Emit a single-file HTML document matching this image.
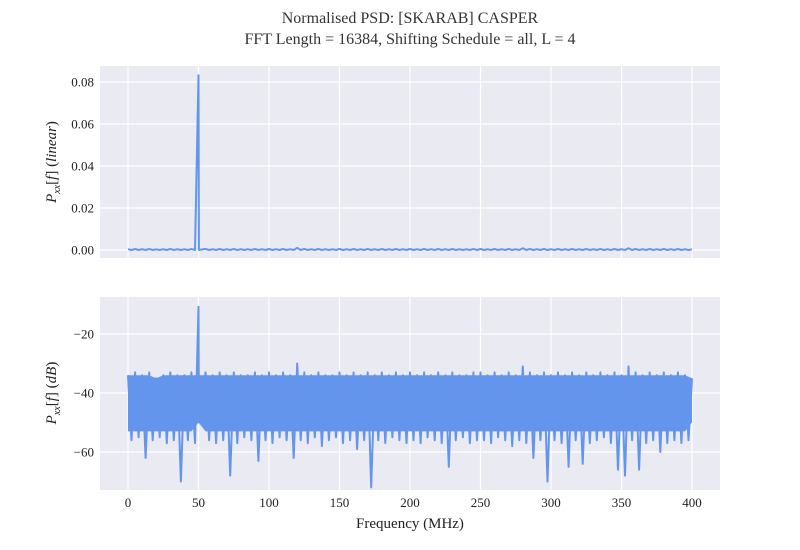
<!DOCTYPE html>
<html><head><meta charset="utf-8"><style>
body{margin:0;background:#fff}
svg{display:block;font-family:"Liberation Serif",serif}
</style></head><body>
<svg id="chart" width="800" height="550" viewBox="0 0 800 550">
<text x="410" y="23" text-anchor="middle" font-size="16" fill="#333">Normalised PSD: [SKARAB] CASPER</text>
<text x="410" y="44" text-anchor="middle" font-size="16" fill="#333">FFT Length = 16384, Shifting Schedule = all, L = 4</text>
<g id="topAxes"></g>
<g id="botAxes"></g>
<text x="410" y="528" text-anchor="middle" font-size="15" fill="#222">Frequency (MHz)</text>
<text transform="translate(56,162) rotate(-90)" text-anchor="middle" font-size="15" fill="#222"><tspan font-style="italic">P</tspan><tspan font-style="italic" font-size="10" dy="4">xx</tspan><tspan dy="-4">[</tspan><tspan font-style="italic">f</tspan><tspan>] (</tspan><tspan font-style="italic">linear</tspan><tspan>)</tspan></text>
<text transform="translate(56,393) rotate(-90)" text-anchor="middle" font-size="15" fill="#222"><tspan font-style="italic">P</tspan><tspan font-style="italic" font-size="10" dy="4">xx</tspan><tspan dy="-4">[</tspan><tspan font-style="italic">f</tspan><tspan>] (</tspan><tspan font-style="italic">dB</tspan><tspan>)</tspan></text>
</svg>
<script>
const freqStep = 5;
const hiDb = [-34,-33,-34,-33,-35,-34,-33,-34,-34,-33,
-10.8,-33,-34,-33,-34,-33,-34,-34,-33,-34,
-33,-34,-33,-34,-30,-33,-34,-33,-34,-34,
-33,-34,-33,-34,-33,-34,-33,-34,-33,-34,
-33,-34,-33,-34,-33,-34,-33,-34,-34,-33,
-33,-34,-33,-34,-33,-34,-31,-33,-34,-33,
-34,-33,-34,-33,-34,-33,-34,-33,-34,-33,
-34,-31,-33,-34,-33,-34,-33,-34,-33,-34,
-35];
const loDb = [-56,-55,-62,-56,-55,-57,-56,-70,-56,-57,
-50,-56,-57,-56,-68,-57,-55,-56,-63,-56,
-57,-55,-56,-62,-56,-57,-55,-58,-56,-55,
-57,-56,-59,-56,-72,-56,-57,-55,-56,-57,
-56,-57,-55,-56,-57,-65,-56,-55,-57,-56,
-56,-57,-55,-56,-58,-56,-57,-62,-56,-70,
-56,-57,-65,-56,-64,-57,-56,-55,-57,-66,
-68,-56,-66,-57,-56,-60,-57,-56,-57,-56,
-50];
const xTicks = [0,50,100,150,200,250,300,350,400];
const topYTicks = [0,0.02,0.04,0.06,0.08];
const topYLabels = ["0.00","0.02","0.04","0.06","0.08"];
const botYTicks = [-20,-40,-60];
const botYLabels = ["\u221220","\u221240","\u221260"];

const NS="http://www.w3.org/2000/svg";
const X0=100,X1=720;
const xs=f=>128+f*(692-128)/400;
const yTop=v=>250-v*(168/0.08);
const yBot=v=>334+(v+20)*(-59/20);
function mk(p,tag,attrs){const e=document.createElementNS(NS,tag);for(const k in attrs)e.setAttribute(k,attrs[k]);p.appendChild(e);return e;}
function off(i){return hiDb[i]>-20?0.3:2.5;}

function axes(g,y0,y1,yt,yl,yf,showX){
  const bg=mk(g,'rect',{x:X0,y:y0,width:X1-X0,height:y1-y0,fill:'#eaeaf2'});
  
  
  xTicks.forEach(t=>{
    const l=mk(g,'line',{x1:xs(t),x2:xs(t),y1:y0,y2:y1,stroke:'#fff','stroke-width':1.2});
    
    
    if(showX){
      const tx=mk(g,'text',{x:xs(t),y:y1+17,'text-anchor':'middle','font-size':13,fill:'#222'});
      tx.textContent=String(t);
      
      
    }
  });
  yt.forEach((t,i)=>{
    const l=mk(g,'line',{x1:X0,x2:X1,y1:yf(t),y2:yf(t),stroke:'#fff','stroke-width':1.2});
    
    
    const tx=mk(g,'text',{x:X0-6,y:yf(t)+4.5,'text-anchor':'end','font-size':13,fill:'#222'});
    tx.textContent=yl[i];
    
    
  });
}
const topG=document.getElementById('topAxes'),botG=document.getElementById('botAxes');
axes(topG,66,258,topYTicks,topYLabels,yTop,false);
axes(botG,297,490,botYTicks,botYLabels,yBot,true);

let d='';
hiDb.forEach((v,i)=>{const f=i*freqStep;const lin=Math.pow(10,v/10);d+=(i?'L':'M')+xs(f).toFixed(1)+','+yTop(lin).toFixed(1);
  if(i<hiDb.length-1){d+='L'+xs(f+off(i)).toFixed(1)+','+yTop(Math.pow(10,loDb[i]/10)).toFixed(1);}});
const lp=mk(topG,'path',{d:d,fill:'none',stroke:'#6495ed','stroke-width':2,'stroke-linejoin':'round'});



let up='',dn='';
hiDb.forEach((v,i)=>{const f=i*freqStep;up+=(i?'L':'M')+xs(f).toFixed(1)+','+yBot(Math.min(v,-34)).toFixed(1);});
for(let i=loDb.length-1;i>=0;i--){const f=i*freqStep;dn+='L'+xs(f).toFixed(1)+','+yBot(Math.max(loDb[i],-53,hiDb[i]>-20?-50:-99)).toFixed(1);}
const band=mk(botG,'path',{d:up+dn+'Z',fill:'#6495ed'});


let z='';
hiDb.forEach((v,i)=>{const f=i*freqStep;z+=(i?'L':'M')+xs(f).toFixed(1)+','+yBot(v).toFixed(1);
  if(i<hiDb.length-1)z+='L'+xs(f+off(i)).toFixed(1)+','+yBot(loDb[i]).toFixed(1);});
const zp=mk(botG,'path',{d:z,fill:'none',stroke:'#6495ed','stroke-width':2,'stroke-linejoin':'round'});


</script>
</body></html>
